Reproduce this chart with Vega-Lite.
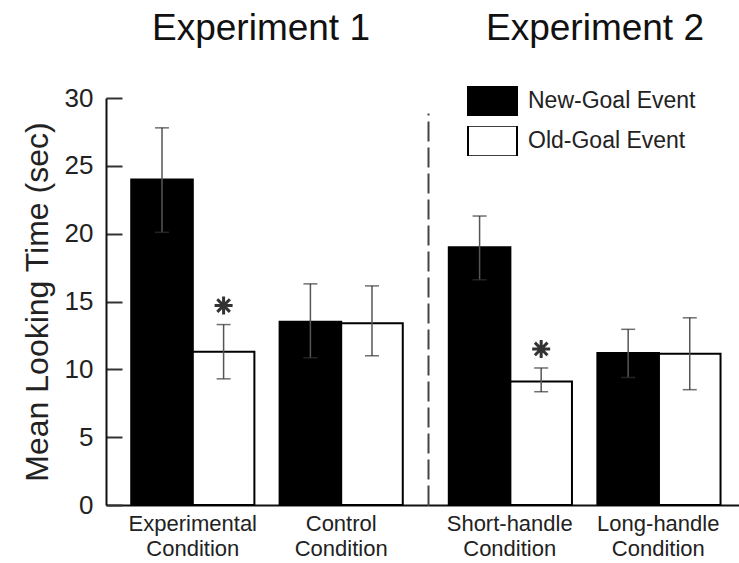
{
  "$schema": "https://vega.github.io/schema/vega-lite/v6.json",
  "padding": {"left": 21, "top": 10, "right": 0, "bottom": 0},
  "config": {
    "font": "Liberation Sans",
    "view": {"stroke": null},
    "axis": {"grid": false, "labelColor": "#222", "titleColor": "#222", "domainColor": "#111", "domainWidth": 2},
    "title": {"fontSize": 37, "fontWeight": "normal", "color": "#111"}
  },
  "datasets": {
    "exp1": [
      {"condition": "Experimental Condition", "event": "New-Goal Event", "mean": 24.0, "lo": 20.1, "hi": 27.8, "sig": ""},
      {"condition": "Experimental Condition", "event": "Old-Goal Event", "mean": 11.3, "lo": 9.3, "hi": 13.3, "sig": "*"},
      {"condition": "Control Condition", "event": "New-Goal Event", "mean": 13.5, "lo": 10.85, "hi": 16.3, "sig": ""},
      {"condition": "Control Condition", "event": "Old-Goal Event", "mean": 13.4, "lo": 11.0, "hi": 16.15, "sig": ""}
    ],
    "exp2": [
      {"condition": "Short-handle Condition", "event": "New-Goal Event", "mean": 19.0, "lo": 16.6, "hi": 21.3, "sig": ""},
      {"condition": "Short-handle Condition", "event": "Old-Goal Event", "mean": 9.1, "lo": 8.35, "hi": 10.1, "sig": "*"},
      {"condition": "Long-handle Condition", "event": "New-Goal Event", "mean": 11.2, "lo": 9.4, "hi": 12.95, "sig": ""},
      {"condition": "Long-handle Condition", "event": "Old-Goal Event", "mean": 11.15, "lo": 8.5, "hi": 13.8, "sig": ""}
    ]
  },
  "spacing": 0,
  "bounds": "flush",
  "resolve": {"scale": {"x": "independent", "y": "independent", "fill": "shared"}},
  "hconcat": [
    {
      "width": 322,
      "height": 407,
      "title": {"text": "Experiment 1", "anchor": "middle", "frame": "group", "baseline": "alphabetic", "offset": 8, "dx": -6},
      "data": {"name": "exp1"},
      "encoding": {
        "x": {
          "field": "condition", "type": "nominal", "sort": null,
          "scale": {"paddingInner": 0.17, "paddingOuter": 0.17},
          "axis": {"title": null, "ticks": false, "labelAngle": 0, "labelFontSize": 22, "labelLineHeight": 25, "labelPadding": 8, "labelBaseline": "top", "labelExpr": "split(datum.label, ' ')"}
        },
        "xOffset": {"field": "event", "type": "nominal", "sort": null, "scale": {"paddingInner": 0, "paddingOuter": 0}}
      },
      "layer": [
        {
          "mark": {"type": "bar", "stroke": "#000", "strokeWidth": 2},
          "encoding": {
            "y": {
              "field": "mean", "type": "quantitative", "title": "Mean Looking Time (sec)",
              "scale": {"domain": [0, 30]},
              "axis": {"values": [0, 5, 10, 15, 20, 25, 30], "tickSize": -16, "tickWidth": 2, "tickColor": "#333", "labelFontSize": 26, "labelPadding": 29, "titleFontSize": 32, "titleFontWeight": "normal", "titlePadding": 10}
            },
            "fill": {
              "field": "event", "type": "nominal", "sort": null,
              "scale": {"range": ["#000", "#fff"]},
              "legend": {"title": null, "orient": "none", "legendX": 361, "legendY": -12, "symbolType": "M-1,-0.62H1V0.62H-1Z", "symbolSize": 2401, "symbolStrokeColor": "#000", "symbolStrokeWidth": 2, "labelFontSize": 23, "labelColor": "#222", "labelOffset": 10, "clipHeight": 30, "rowPadding": 10, "labelLimit": 300}
            }
          }
        },
        {
          "mark": {"type": "rule", "color": "#555", "strokeWidth": 1.5},
          "encoding": {
            "y": {"field": "lo", "type": "quantitative", "title": "Mean Looking Time (sec)"},
            "y2": {"field": "hi"}
          }
        },
        {
          "mark": {"type": "tick", "color": "#333", "thickness": 1.5, "size": 14},
          "encoding": {"y": {"field": "lo", "type": "quantitative", "title": "Mean Looking Time (sec)"}}
        },
        {
          "mark": {"type": "tick", "color": "#333", "thickness": 1.5, "size": 14},
          "encoding": {"y": {"field": "hi", "type": "quantitative", "title": "Mean Looking Time (sec)"}}
        },
        {
          "transform": [{"filter": "datum.sig == '*'"}],
          "mark": {"type": "point", "shape": "M0,-1V1M-1,0H1M-0.7,-0.7L0.7,0.7M-0.7,0.7L0.7,-0.7", "size": 324, "strokeWidth": 3, "color": "#333", "filled": false, "opacity": 1, "yOffset": -19},
          "encoding": {
            "y": {"field": "hi", "type": "quantitative", "title": "Mean Looking Time (sec)"}
          }
        }
      ]
    },
    {
      "width": 312,
      "height": 407,
      "title": {"text": "Experiment 2", "anchor": "middle", "frame": "group", "baseline": "alphabetic", "offset": 21, "dx": 11},
      "data": {"name": "exp2"},
      "encoding": {
        "x": {
          "field": "condition", "type": "nominal", "sort": null,
          "scale": {"paddingInner": 0.18, "paddingOuter": 0.14},
          "axis": {"title": null, "ticks": false, "labelAngle": 0, "labelFontSize": 22, "labelLineHeight": 25, "labelPadding": 8, "labelBaseline": "top", "labelExpr": "split(datum.label, ' ')"}
        },
        "xOffset": {"field": "event", "type": "nominal", "sort": null, "scale": {"paddingInner": 0, "paddingOuter": 0}}
      },
      "layer": [
        {
          "mark": {"type": "bar", "stroke": "#000", "strokeWidth": 2},
          "encoding": {
            "y": {
              "field": "mean", "type": "quantitative", "title": null,
              "scale": {"domain": [0, 30]},
              "axis": {"labels": false, "ticks": false, "domainColor": "#444", "domainWidth": 2,
                "domainDash": [20, 6, 20, 6, 20, 6, 20, 6, 20, 6, 20, 6, 20, 6, 20, 6, 20, 6, 20, 6, 20, 6, 20, 6, 20, 6, 20, 6, 20, 6, 2, 40]}
            },
            "fill": {
              "field": "event", "type": "nominal", "sort": null,
              "scale": {"range": ["#000", "#fff"]},
              "legend": {"title": null, "orient": "none", "legendX": 361, "legendY": -12, "symbolType": "M-1,-0.62H1V0.62H-1Z", "symbolSize": 2401, "symbolStrokeColor": "#000", "symbolStrokeWidth": 2, "labelFontSize": 23, "labelColor": "#222", "labelOffset": 10, "clipHeight": 30, "rowPadding": 10, "labelLimit": 300}
            }
          }
        },
        {
          "mark": {"type": "rule", "color": "#555", "strokeWidth": 1.5},
          "encoding": {
            "y": {"field": "lo", "type": "quantitative", "title": null},
            "y2": {"field": "hi"}
          }
        },
        {
          "mark": {"type": "tick", "color": "#333", "thickness": 1.5, "size": 14},
          "encoding": {"y": {"field": "lo", "type": "quantitative", "title": null}}
        },
        {
          "mark": {"type": "tick", "color": "#333", "thickness": 1.5, "size": 14},
          "encoding": {"y": {"field": "hi", "type": "quantitative", "title": null}}
        },
        {
          "transform": [{"filter": "datum.sig == '*'"}],
          "mark": {"type": "point", "shape": "M0,-1V1M-1,0H1M-0.7,-0.7L0.7,0.7M-0.7,0.7L0.7,-0.7", "size": 324, "strokeWidth": 3, "color": "#333", "filled": false, "opacity": 1, "yOffset": -19},
          "encoding": {
            "y": {"field": "hi", "type": "quantitative", "title": null}
          }
        }
      ]
    }
  ]
}
